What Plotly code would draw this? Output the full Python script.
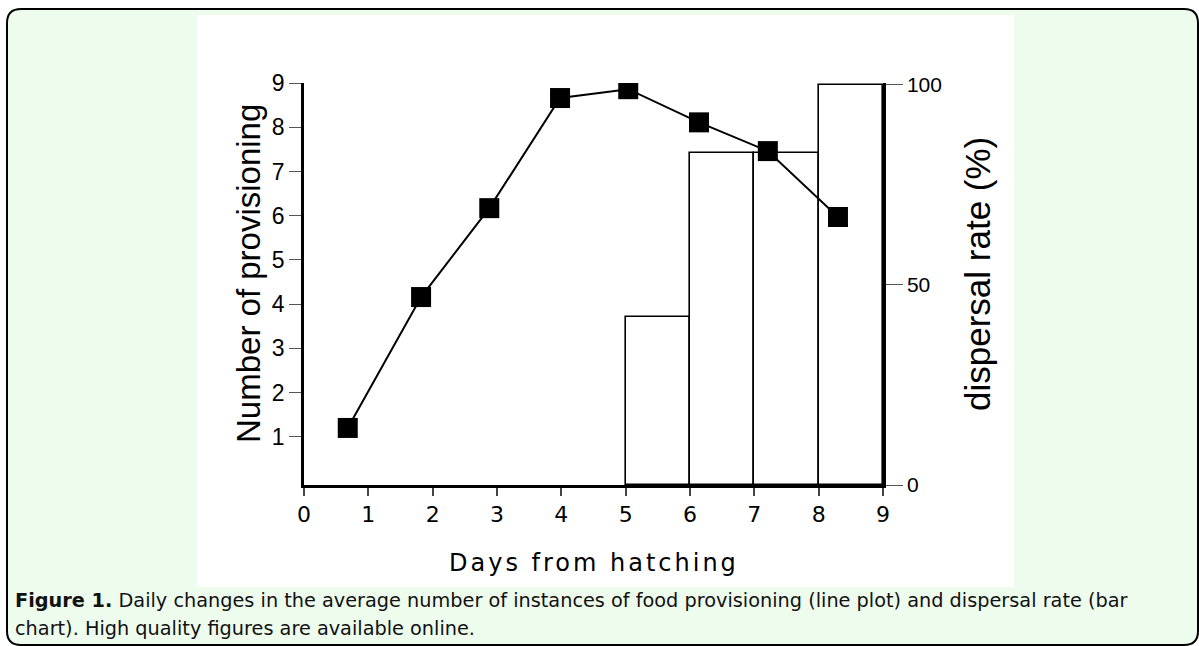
import plotly.graph_objects as go

# ---- data ----
days_line = [0.68, 1.82, 2.88, 3.98, 5.04, 6.14, 7.21, 8.30]
provisioning = [1.20, 4.16, 6.17, 8.66, 8.86, 8.11, 7.46, 5.97]
bar_days = [5.5, 6.5, 7.5, 8.5]
dispersal = [42, 83, 83, 100]
x_ticks = [0, 1, 2, 3, 4, 5, 6, 7, 8, 9]
left_ticks = [1, 2, 3, 4, 5, 6, 7, 8, 9]
right_ticks = [0, 50, 100]

W, H = 1199, 646
L, R, T, B = 304, 883, 83, 485
PW, PH = R - L, B - T


def px(x):
    return (x - L) / PW


def py(y):
    return (B - y) / PH


fig = go.Figure()
fig.add_trace(go.Bar(
    x=bar_days, y=dispersal, width=1, yaxis="y",
    marker=dict(color="white", line=dict(color="black", width=1.6)),
    showlegend=False, hoverinfo="skip"))
fig.add_trace(go.Scatter(
    x=days_line, y=provisioning, yaxis="y2", mode="lines+markers",
    line=dict(color="black", width=2),
    marker=dict(symbol="square", size=20, color="black"),
    showlegend=False))

shapes = []
# green rounded panel
x0, y0, x1, y1, r = 7, 9, 1198, 645, 14
path = (f"M {px(x0+r)},{py(y0)} L {px(x1-r)},{py(y0)} "
        f"Q {px(x1)},{py(y0)} {px(x1)},{py(y0+r)} "
        f"L {px(x1)},{py(y1-r)} Q {px(x1)},{py(y1)} {px(x1-r)},{py(y1)} "
        f"L {px(x0+r)},{py(y1)} Q {px(x0)},{py(y1)} {px(x0)},{py(y1-r)} "
        f"L {px(x0)},{py(y0+r)} Q {px(x0)},{py(y0)} {px(x0+r)},{py(y0)} Z")
shapes.append(dict(type="path", xref="paper", yref="paper", path=path,
                   fillcolor="#eefcee", line=dict(color="black", width=2),
                   layer="below"))
shapes.append(dict(type="rect", xref="paper", yref="paper",
                   x0=px(197), x1=px(1014), y0=py(15), y1=py(587),
                   fillcolor="white", line=dict(width=0), layer="below"))

annotations = [
    dict(text="Number of provisioning", xref="paper", yref="paper",
         x=px(248), y=py(274), textangle=-90, showarrow=False,
         font=dict(family="Liberation Sans", size=33, color="black"),
         xanchor="center", yanchor="middle"),
    dict(text="dispersal rate (%)", xref="paper", yref="paper",
         x=px(977), y=py(274), textangle=-90, showarrow=False,
         font=dict(family="Liberation Sans", size=35, color="black"),
         xanchor="center", yanchor="middle"),
    dict(text='<span style="letter-spacing:3px">Days from hatching</span>',
         xref="paper", yref="paper",
         x=px(594), y=py(563), showarrow=False,
         font=dict(family="DejaVu Sans", size=24, color="black"),
         xanchor="center", yanchor="middle"),
    dict(text="<b>Figure 1.</b> Daily changes in the average number of instances of food "
              "provisioning (line plot) and dispersal rate (bar",
         xref="paper", yref="paper", x=px(13), y=py(600), showarrow=False,
         font=dict(family="DejaVu Sans", size=19.3, color="#111"),
         xanchor="left", yanchor="middle"),
    dict(text="chart). High quality figures are available online.",
         xref="paper", yref="paper", x=px(13), y=py(628), showarrow=False,
         font=dict(family="DejaVu Sans", size=19.3, color="#111"),
         xanchor="left", yanchor="middle"),
]

fig.update_layout(
    width=W, height=H,
    margin=dict(l=L, r=W - R, t=T, b=H - B, pad=0),
    paper_bgcolor="white", plot_bgcolor="rgba(0,0,0,0)",
    shapes=shapes, annotations=annotations, bargap=0,
    xaxis=dict(range=[0, 9], tickvals=x_ticks, showgrid=False, zeroline=False,
               showline=True, linecolor="black", linewidth=2.5,
               ticks="outside", ticklen=8, tickwidth=1.5, tickcolor="#444",
               tickfont=dict(family="DejaVu Sans", size=22, color="black")),
    yaxis=dict(range=[0, 100.4], side="right", tickvals=right_ticks,
               showgrid=False, zeroline=False,
               showline=True, linecolor="black", linewidth=2.5,
               ticks="outside", ticklen=17, tickwidth=1.2, tickcolor="#555",
               tickfont=dict(family="Liberation Sans", size=21, color="black")),
    yaxis2=dict(range=[-0.09, 9.0], overlaying="y", side="left",
                tickvals=left_ticks, showgrid=False, zeroline=False,
                showline=True, linecolor="black", linewidth=2.5,
                ticks="outside", ticklen=12, tickwidth=1.2, tickcolor="#555",
                tickfont=dict(family="Liberation Sans", size=23, color="black")),
)

fig.write_html("out.html", config={"displayModeBar": False},
               post_script="document.body.style.margin='0';"
                           "document.body.style.overflow='hidden';")
